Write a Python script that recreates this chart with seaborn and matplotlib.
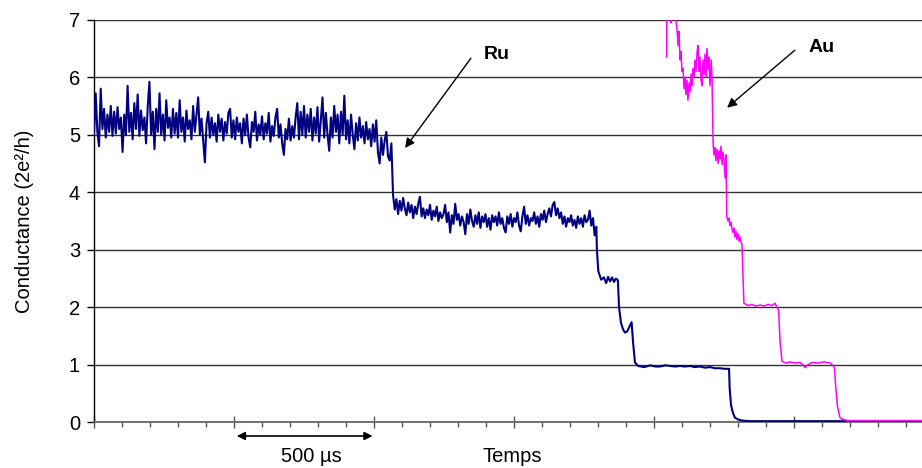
import numpy as np
import pandas as pd
import matplotlib
matplotlib.use("Agg")
import matplotlib.pyplot as plt
from matplotlib.ticker import MultipleLocator
import seaborn as sns

# Ru trace, noisy part at 6 us steps
ru_dt = 6
ru_start_a = 0
ru_plateau_5 = [
    5.00, 5.72, 5.05, 4.80, 5.80, 5.10, 5.45, 4.95, 5.35, 5.05,
    5.50, 4.98, 5.40, 5.02, 5.48, 5.10, 5.30, 4.70, 5.35, 5.00,
    5.85, 5.05, 5.38, 4.92, 5.55, 5.10, 5.70, 4.98, 5.42, 5.08,
    5.30, 4.85, 5.50, 5.92, 5.00, 5.40, 4.75, 5.45, 5.05, 5.72,
    5.00, 5.35, 4.90, 5.60, 5.12, 5.30, 4.95, 5.45, 5.02, 5.38,
    4.95, 5.60, 5.05, 5.30, 4.88, 5.42, 5.10, 5.25, 4.92, 5.50,
    5.05, 5.35, 5.65, 5.00, 5.28, 4.90, 4.52, 5.20, 5.40, 4.95,
    5.30, 5.00, 5.20, 4.88, 5.35, 5.05, 5.28, 4.90, 5.22, 5.02,
    5.38, 5.45, 4.95, 5.25, 4.92, 5.30, 5.05, 5.20, 4.85, 5.28,
    5.00, 5.35, 4.95, 4.78, 5.22, 5.05, 5.40, 4.90, 5.18, 5.00,
    5.32, 4.92, 5.20, 5.02, 5.38, 4.88, 5.15, 4.98, 5.30, 5.45,
    4.95, 5.18, 4.85, 4.65, 5.10, 4.92, 5.28, 4.90, 5.15, 4.95,
    5.30, 5.55, 4.92, 5.40, 5.00, 5.50, 4.95, 5.35, 5.05, 5.45,
    4.90, 5.30, 5.02, 5.48, 4.88, 5.25, 5.65, 4.95, 5.38, 5.00,
    4.72, 5.30, 4.95, 5.50, 5.05, 5.35, 4.85, 5.40, 5.00, 5.68,
    4.92, 5.25, 4.85, 5.35, 5.00, 4.75, 5.20, 4.90, 5.30, 4.95,
    5.15, 4.85, 5.22, 4.92, 5.10, 4.80, 5.18, 4.88, 5.25, 4.70,
    4.50, 4.95, 4.65, 4.90, 5.05, 4.62, 4.55, 4.85,
]
ru_start_b = 1068
ru_plateau_36 = [
    3.95, 3.70, 3.88, 3.62, 3.85, 3.68, 3.90, 3.72, 3.60, 3.82,
    3.65, 3.78, 3.55, 3.75, 3.62, 3.80, 3.92, 3.58, 3.72, 3.55,
    3.70, 3.60, 3.78, 3.52, 3.68, 3.58, 3.75, 3.50, 3.65, 3.55,
    3.62, 3.78, 3.48, 3.65, 3.30, 3.60, 3.45, 3.80, 3.52, 3.62,
    3.42, 3.58, 3.48, 3.27, 3.62, 3.45, 3.70, 3.50, 3.40, 3.60,
    3.45, 3.65, 3.38, 3.58, 3.48, 3.62, 3.40, 3.55, 3.35, 3.60,
    3.48, 3.58, 3.42, 3.65, 3.45, 3.55, 3.38, 3.30, 3.58, 3.45,
    3.62, 3.40, 3.55, 3.48, 3.65, 3.42, 3.32, 3.58, 3.75, 3.45,
    3.60, 3.42, 3.55, 3.50, 3.65, 3.45, 3.58, 3.40, 3.62, 3.52,
    3.68, 3.48, 3.62, 3.72, 3.58, 3.78, 3.83, 3.60, 3.72, 3.55,
    3.65, 3.45, 3.58, 3.40, 3.55, 3.48, 3.60, 3.42, 3.52, 3.38,
    3.58, 3.45, 3.55, 3.40, 3.60, 3.48, 3.52, 3.68, 3.42, 3.55,
    3.25, 3.40,
]
# Ru trace, last steps (time in us, conductance)
ru_steps_t = [1796, 1801, 1811, 1821, 1829, 1836, 1843, 1850, 1857, 1864,
              1871, 1875, 1882, 1889, 1896, 1904, 1912, 1920, 1925, 1932,
              1943, 1965, 1986, 2005, 2021, 2040, 2057, 2075, 2093, 2110,
              2129, 2145, 2164, 2182, 2200, 2218, 2236, 2252, 2268, 2270,
              2275, 2282, 2289, 2300, 2314, 2343, 2957]
ru_steps_g = [3.00, 2.63, 2.48, 2.52, 2.42, 2.53, 2.45, 2.52, 2.44, 2.50,
              2.47, 2.00, 1.73, 1.62, 1.56, 1.58, 1.66, 1.74, 1.40, 1.04,
              0.98, 0.96, 0.99, 0.97, 0.97, 0.99, 0.98, 0.97, 0.98, 0.97,
              0.98, 0.96, 0.97, 0.95, 0.96, 0.94, 0.94, 0.93, 0.93, 0.60,
              0.30, 0.16, 0.08, 0.05, 0.03, 0.02, 0.02]

# Au trace (time in us, conductance)
au_t = [2045, 2046, 2059, 2061, 2062, 2077, 2079, 2082, 2086, 2089,
        2093, 2096, 2100, 2104, 2107, 2111, 2114, 2118, 2121, 2125,
        2129, 2132, 2136, 2139, 2143, 2146, 2150, 2154, 2157, 2161,
        2164, 2168, 2171, 2175, 2179, 2182, 2186, 2189, 2193, 2196,
        2200, 2204, 2207, 2211, 2214, 2218, 2221, 2225, 2229, 2232,
        2236, 2239, 2243, 2246, 2250, 2254, 2257, 2260, 2264, 2268,
        2271, 2275, 2279, 2282, 2286, 2289, 2293, 2296, 2300, 2304,
        2307, 2311, 2314, 2318, 2321, 2336, 2350, 2364, 2379, 2393,
        2407, 2421, 2432, 2439, 2445, 2450, 2457, 2471, 2486, 2504,
        2521, 2532, 2539, 2550, 2564, 2586, 2607, 2629, 2639, 2644,
        2650, 2655, 2664, 2675, 2693, 2957]
au_g = [6.35, 7.40, 7.40, 6.95, 7.40, 7.40, 6.95, 6.85, 6.55, 6.80,
        6.30, 6.45, 6.10, 6.15, 5.80, 6.00, 5.70, 5.95, 5.60, 5.90,
        5.75, 6.05, 5.85, 6.15, 6.00, 6.30, 6.10, 6.45, 6.55, 6.10,
        6.35, 5.95, 5.85, 6.30, 6.05, 6.40, 6.00, 6.50, 6.15, 6.35,
        5.85, 6.30, 6.00, 4.85, 4.65, 4.78, 4.55, 4.75, 4.50, 4.72,
        4.58, 4.80, 4.48, 4.70, 4.55, 4.25, 4.65, 3.58, 3.50, 3.55,
        3.42, 3.48, 3.35, 3.30, 3.38, 3.22, 3.32, 3.18, 3.28, 3.15,
        3.22, 3.12, 3.10, 2.50, 2.07, 2.03, 2.05, 2.02, 2.04, 2.02,
        2.05, 2.03, 2.07, 2.00, 1.95, 1.40, 1.06, 1.03, 1.05, 1.03,
        1.04, 1.00, 0.95, 1.00, 1.04, 1.03, 1.05, 1.03, 0.99, 0.95,
        0.55, 0.28, 0.08, 0.05, 0.03, 0.03]

ru_t = ([ru_start_a + ru_dt * i for i in range(len(ru_plateau_5))]
        + [ru_start_b + ru_dt * i for i in range(len(ru_plateau_36))]
        + ru_steps_t)
ru_g = ru_plateau_5 + ru_plateau_36 + ru_steps_g
ru = pd.DataFrame({"t": ru_t, "g": ru_g})
au = pd.DataFrame({"t": au_t, "g": au_g})

sns.set_style("white")
plt.rcParams["font.family"] = ["Liberation Sans", "DejaVu Sans"]
plt.rcParams.update({"text.color": "black", "axes.labelcolor": "black",
                     "xtick.color": "black", "ytick.color": "black"})

fig = plt.figure(figsize=(9.22, 4.68), dpi=100)
ax = fig.add_axes([94 / 922, 1 - 422.3 / 468, 828 / 922, 402.6 / 468])

sns.lineplot(data=ru, x="t", y="g", color="#000080", lw=1.5,
             estimator=None, sort=False, ax=ax, zorder=3)
sns.lineplot(data=au, x="t", y="g", color="#FF00FF", lw=1.1,
             estimator=None, sort=False, ax=ax, zorder=3)

ax.set_xlim(0, 2957)
ax.set_ylim(0, 7)
ax.set_yticks(range(0, 8))
ax.yaxis.grid(True, color="#333333", lw=1.0)
ax.xaxis.grid(False)
ax.set_axisbelow(True)

ax.xaxis.set_major_locator(MultipleLocator(500))
ax.xaxis.set_minor_locator(MultipleLocator(100))
ax.tick_params(axis="x", which="major", direction="inout", length=8.5,
               width=1, color="#555555", bottom=True, labelbottom=False)
ax.tick_params(axis="x", which="minor", direction="out", length=3.6,
               width=1, color="#555555", bottom=True)
ax.tick_params(axis="y", direction="out", length=5, width=1, color="black",
               left=True, labelsize=14.5, pad=5)

for s in ["top", "right"]:
    ax.spines[s].set_visible(False)
ax.spines["left"].set_color("black")
ax.spines["left"].set_linewidth(1.0)
ax.spines["bottom"].set_color("#666666")
ax.spines["bottom"].set_linewidth(1.3)

ax.set_ylabel("Conductance (2e²/h)", fontsize=14.5)
ax.yaxis.set_label_coords(-0.073, 0.5)
ax.set_xlabel("Temps", fontsize=14.5)
ax.xaxis.set_label_coords(0.505, -0.086)
ax.xaxis.label.set_verticalalignment("center")

# scale bar
trans = ax.get_xaxis_transform()
ax.annotate("", xy=(510, -0.034), xytext=(995, -0.034), xycoords=trans,
            textcoords=trans, annotation_clip=False,
            arrowprops=dict(arrowstyle="<|-|>", color="black", lw=1.2,
                            mutation_scale=12, shrinkA=0, shrinkB=0))
ax.text(775, -0.086, "500 µs", transform=trans, ha="center", va="center",
        fontsize=14.5)

# labels with arrows
ax.annotate("", xy=(1111, 4.77), xytext=(1346, 6.33),
            arrowprops=dict(arrowstyle="-|>", color="black", lw=1.0,
                            mutation_scale=14, shrinkA=0, shrinkB=0))
ax.text(1439, 6.39, "Ru", ha="center", va="center", fontsize=14,
        fontweight="bold")
ax.annotate("", xy=(2261, 5.47), xytext=(2503, 6.47),
            arrowprops=dict(arrowstyle="-|>", color="black", lw=1.0,
                            mutation_scale=14, shrinkA=0, shrinkB=0))
ax.text(2600, 6.51, "Au", ha="center", va="center", fontsize=14,
        fontweight="bold")

fig.savefig("out.png", dpi=100)
